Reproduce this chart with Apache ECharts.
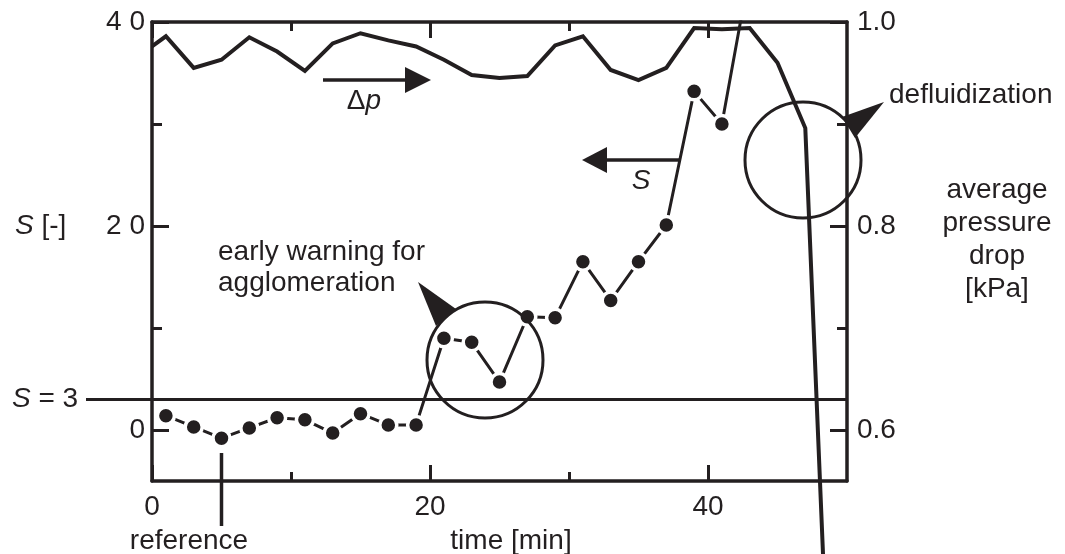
<!DOCTYPE html>
<html>
<head>
<meta charset="utf-8">
<script src="https://cdn.jsdelivr.net/npm/echarts@6/dist/echarts.min.js"></script>
<style>
html,body{margin:0;padding:0;background:#fff;}
#c{width:1065px;height:554px;}
</style>
</head>
<body>
<div id="c"></div>
<script>
// ---- data ----
const sTimes  = [1, 3, 5, 7, 9, 11, 13, 15, 17, 19, 21, 23, 25, 27, 29, 31, 33, 35, 37, 39, 41, 43];
const sValues = [1.4, 0.3, -0.8, 0.2, 1.2, 1.0, -0.3, 1.6, 0.5, 0.5, 9.0, 8.6, 4.7, 11.1, 11.0, 16.5, 12.7, 16.5, 20.1, 33.2, 30.0, 45];
const pTimes  = [0, 1, 3, 5, 7, 9, 11, 13, 15, 17, 19, 21, 23, 25, 27, 29, 31, 33, 35, 37, 39, 41, 43, 45, 47, 48.3];
const pValues = [0.976, 0.986, 0.955, 0.963, 0.985, 0.971, 0.952, 0.979, 0.989, 0.982, 0.976, 0.963, 0.948, 0.945, 0.947, 0.977, 0.986, 0.953, 0.943, 0.955, 0.994, 0.993, 0.994, 0.960, 0.896, 0.47];
const sThreshold = 3;
const referenceTime = 5;
const xTickLabels = [0, 20, 40];
const sTickLabels = {0: '0', 20: '2 0', 40: '4 0'};
const pTickLabels = [0.6, 0.8, 1.0];

const INK = '#231f20';
const FONT = '"Liberation Sans", Arial, sans-serif';
const FS = 28;

const chart = echarts.init(document.getElementById('c'), null, {renderer: 'canvas'});

const sData = sTimes.map((t, i) => {
  const item = {value: [t, sValues[i]]};
  if (sValues[i] > 40) item.symbol = 'none';
  return item;
});
const pData = pTimes.map((t, i) => [t, pValues[i]]);

const G = {left: 152, top: 22, width: 695, height: 459};
const hideAll = {axisLine: {show: false, onZero: false}, axisTick: {show: false}, axisLabel: {show: false}, splitLine: {show: false}};
const axisLineStyle = {show: true, onZero: false, lineStyle: {color: INK, width: 3.5}};
const labelStyle = {color: INK, fontSize: FS, fontFamily: FONT};
const majorTick = len => ({show: true, inside: true, length: len, lineStyle: {color: INK, width: 3}});
const minorTick = len => ({show: true, splitNumber: 2, length: len, lineStyle: {color: INK, width: 3}});

const option = {
  animation: false,
  backgroundColor: '#fff',
  grid: [
    {left: G.left, top: G.top, width: G.width, height: G.height},
    {left: G.left, top: G.top, width: 556, height: G.height},
    {left: G.left, top: G.top, width: G.width, height: 408.7}
  ],
  xAxis: [
    {gridIndex: 0, type: 'value', position: 'bottom', min: 0, max: 50, axisLine: axisLineStyle, axisTick: {show: false}, axisLabel: {show: false}, splitLine: {show: false}},
    {gridIndex: 0, type: 'value', position: 'top', min: 0, max: 50, axisLine: axisLineStyle, axisTick: {show: false}, axisLabel: {show: false}, splitLine: {show: false}},
    {gridIndex: 1, type: 'value', position: 'bottom', min: 0, max: 40, interval: 20,
      axisLine: {show: false, onZero: false},
      axisTick: majorTick(16), minorTick: minorTick(9),
      axisLabel: Object.assign({show: true, margin: 12, formatter: v => xTickLabels.indexOf(v) >= 0 ? String(v) : ''}, labelStyle),
      splitLine: {show: false}, minorSplitLine: {show: false}},
    {gridIndex: 1, type: 'value', position: 'top', min: 0, max: 40, interval: 20,
      axisLine: {show: false, onZero: false},
      axisTick: majorTick(16), minorTick: minorTick(9),
      axisLabel: {show: false}, splitLine: {show: false}},
    Object.assign({gridIndex: 2, type: 'value', min: 0, max: 50}, hideAll)
  ],
  yAxis: [
    {gridIndex: 0, type: 'value', position: 'left', min: -5, max: 40, axisLine: axisLineStyle, axisTick: {show: false}, axisLabel: {show: false}, splitLine: {show: false}},
    {gridIndex: 0, type: 'value', position: 'right', min: 0.55, max: 1.0, axisLine: axisLineStyle, axisTick: {show: false}, axisLabel: {show: false}, splitLine: {show: false}},
    Object.assign({gridIndex: 1, type: 'value', min: 0, max: 1}, hideAll),
    {gridIndex: 2, type: 'value', position: 'left', min: 0, max: 40, interval: 20,
      axisLine: {show: false, onZero: false},
      axisTick: majorTick(17), minorTick: minorTick(10),
      axisLabel: Object.assign({show: true, margin: 7, formatter: v => sTickLabels[Math.round(v)] || ''}, labelStyle),
      splitLine: {show: false}},
    {gridIndex: 2, type: 'value', position: 'right', min: 0.6, max: 1.0, interval: 0.2,
      axisLine: {show: false, onZero: false},
      axisTick: majorTick(17), minorTick: minorTick(10),
      axisLabel: Object.assign({show: true, margin: 10, formatter: v => {
        const r = Math.round(v * 10) / 10;
        return pTickLabels.some(p => Math.abs(p - r) < 1e-6) ? r.toFixed(1) : '';
      }}, labelStyle),
      splitLine: {show: false}}
  ],
  series: [
    {
      name: 'dp', type: 'line', xAxisIndex: 0, yAxisIndex: 1, data: pData,
      symbol: 'none', clip: false, z: 3,
      lineStyle: {color: INK, width: 4, join: 'miter'}
    },
    {
      name: 'S', type: 'line', xAxisIndex: 0, yAxisIndex: 0, data: sData,
      symbol: 'circle', symbolSize: 17, clip: true, z: 4,
      itemStyle: {color: INK, borderColor: '#fff', borderWidth: 3.5},
      lineStyle: {color: INK, width: 3},
      markLine: {
        silent: true, symbol: 'none', animation: false,
        label: {show: false},
        lineStyle: {color: INK, width: 3, type: 'solid'},
        data: [{yAxis: sThreshold}]
      }
    }
  ]
};
chart.setOption(option);

// ---- annotations ----
const txt = (text, x, y, align, extra) => ({
  type: 'text', z: 20,
  style: Object.assign({
    text: text, x: x, y: y, fill: INK, fontSize: FS, fontFamily: FONT,
    align: align || 'left', verticalAlign: 'middle'
  }, extra || {})
});
const richI = {i: {fontStyle: 'italic', fontSize: FS, fontFamily: FONT, fill: INK}, n: {fontSize: FS, fontFamily: FONT, fill: INK}};

const yS3 = chart.convertToPixel({yAxisIndex: 0}, sThreshold);
const xRef = chart.convertToPixel({xAxisIndex: 0}, referenceTime);

const graphics = [
  // S = 3 extension to the left
  {type: 'line', z: 5, shape: {x1: 86, y1: yS3, x2: G.left, y2: yS3}, style: {stroke: INK, lineWidth: 3}},
  // reference marker
  {type: 'line', z: 5, shape: {x1: xRef, y1: 453, x2: xRef, y2: 526}, style: {stroke: INK, lineWidth: 3.5}},
  // circles
  {type: 'circle', z: 10, shape: {cx: 485, cy: 360, r: 58}, style: {fill: 'none', stroke: INK, lineWidth: 3}},
  {type: 'circle', z: 10, shape: {cx: 803, cy: 160, r: 58}, style: {fill: 'none', stroke: INK, lineWidth: 3}},
  // pointer triangles
  {type: 'polygon', z: 11, shape: {points: [[418, 282], [456, 309], [436, 326]]}, style: {fill: INK}},
  {type: 'polygon', z: 11, shape: {points: [[884, 102], [842, 117], [855, 138]]}, style: {fill: INK}},
  // delta p arrow (pointing right)
  {type: 'line', z: 11, shape: {x1: 323, y1: 80, x2: 410, y2: 80}, style: {stroke: INK, lineWidth: 3.5}},
  {type: 'polygon', z: 11, shape: {points: [[405, 67], [431, 80], [405, 93]]}, style: {fill: INK}},
  // S arrow (pointing left)
  {type: 'line', z: 11, shape: {x1: 681, y1: 160, x2: 600, y2: 160}, style: {stroke: INK, lineWidth: 3.5}},
  {type: 'polygon', z: 11, shape: {points: [[607, 147], [582, 160], [607, 173]]}, style: {fill: INK}},
  // texts
  txt('{n|\u0394}{i|p}', 364, 101, 'center', {rich: richI}),
  txt('{i|S}', 641, 181, 'center', {rich: richI}),
  txt('{i|S}{n| [-]}', 15, 226.5, 'left', {rich: richI}),
  txt('{i|S}{n| = 3}', 12, yS3, 'left', {rich: richI}),
  txt('early warning for', 218, 252, 'left'),
  txt('agglomeration', 218, 283, 'left'),
  txt('defluidization', 889, 95, 'left'),
  txt('average', 997, 190, 'center'),
  txt('pressure', 997, 223, 'center'),
  txt('drop', 997, 256, 'center'),
  txt('[kPa]', 997, 289, 'center'),
  txt('reference', 189, 541, 'center'),
  txt('time [min]', 511, 541, 'center')
];
chart.setOption({graphic: graphics});
</script>
</body>
</html>
